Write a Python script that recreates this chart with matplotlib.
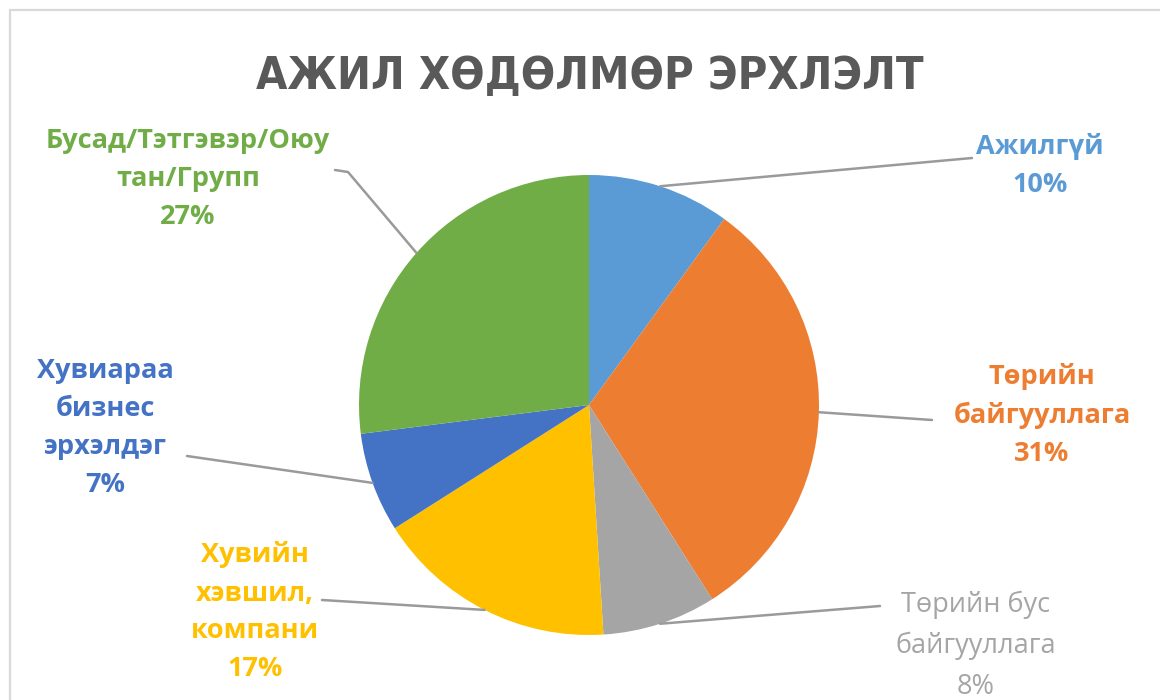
import numpy as np
import matplotlib.pyplot as plt
from matplotlib.patches import Rectangle

# employment shares, clockwise from 12 o'clock
labels = ['Ажилгүй', 'Төрийн\nбайгууллага', 'Төрийн бус\nбайгууллага',
          'Хувийн\nхэвшил,\nкомпани', 'Хувиараа\nбизнес\nэрхэлдэг',
          'Бусад/Тэтгэвэр/Оюу\nтан/Групп']
shares = [10, 31, 8, 17, 7, 27]
colors = ['#5B9BD5', '#ED7D31', '#A5A5A5', '#FFC000', '#4472C4', '#70AD47']
text_colors = ['#5B9BD5', '#ED7D31', '#A5A5A5', '#FFC000', '#4472C4', '#70AD47']
bold = [True, True, False, True, True, True]

title = 'АЖИЛ ХӨДӨЛМӨР ЭРХЛЭЛТ'

W, H = 1160, 700
fig = plt.figure(figsize=(W / 100, H / 100), dpi=100)
ax = fig.add_axes([0, 0, 1, 1])

# chart frame
fig.patches.append(Rectangle((10 / W, -0.1), 1.2, (H - 10) / H + 0.1,
                             transform=fig.transFigure, fill=False,
                             ec='#d9d9d9', lw=1.6))

cx, cy, r = 589, H - 405, 230
wedges, _ = ax.pie(shares, colors=colors, startangle=90, counterclock=False,
                   center=(cx, cy), radius=r, frame=True,
                   wedgeprops=dict(linewidth=0))
ax.set_xlim(0, W)
ax.set_ylim(0, H)
ax.set_aspect('equal')
ax.axis('off')

# label anchor (text centre) and leader end point, in pixels from top-left
label_pos = [(1040, 166), (1042, 415), (976, 646), (255, 612), (105, 428), (188, 179)]
line_end = [(972, 158), (932, 420), (880, 606), (322, 600), (187, 456), (335, 170)]
elbow = [None, None, None, None, None, (348, 172)]

font = ['Open Sans', 'DejaVu Sans']
for w, lab, s, tc, b, lp, le, el in zip(wedges, labels, shares, text_colors, bold,
                                        label_pos, line_end, elbow):
    mid = np.deg2rad((w.theta1 + w.theta2) / 2)
    x0, y0 = cx + r * np.cos(mid), cy + r * np.sin(mid)
    pts = [(x0, y0)]
    if el is not None:
        pts.append((el[0], H - el[1]))
    pts.append((le[0], H - le[1]))
    xs, ys = zip(*pts)
    ax.plot(xs, ys, color='#9a9a9a', lw=1.8, solid_capstyle='round')
    ax.text(lp[0], H - lp[1], f'{lab}\n{s}%', ha='center', va='center',
            color=tc, fontsize=19.5, fontweight='bold' if b else 'normal',
            family=font, linespacing=1.6)

ax.text(590, H - 76, title, ha='center', va='center', color='#595959',
        fontsize=32.5, fontweight='bold', fontstretch='condensed',
        family=['Liberation Sans Narrow', 'DejaVu Sans'])

fig.savefig('out.png', dpi=100)
